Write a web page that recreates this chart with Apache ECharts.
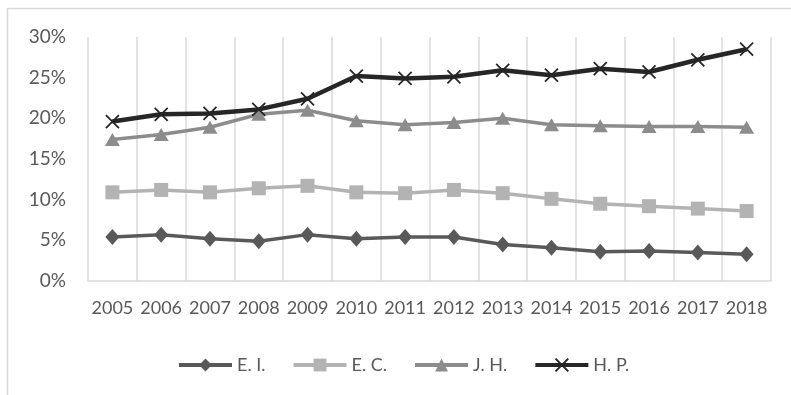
<!DOCTYPE html>
<html>
<head>
<meta charset="utf-8">
<script src="https://cdn.jsdelivr.net/npm/echarts@6/dist/echarts.min.js"></script>
<style>
  html, body { margin: 0; padding: 0; background: #fff; }
  #chart { width: 791px; height: 395px; }
</style>
</head>
<body>
<div id="chart"></div>
<script>
const years = ['2005', '2006', '2007', '2008', '2009', '2010', '2011', '2012', '2013', '2014', '2015', '2016', '2017', '2018']
const ei = [5.4, 5.7, 5.2, 4.9, 5.7, 5.2, 5.4, 5.4, 4.5, 4.1, 3.6, 3.7, 3.5, 3.3]
const ec = [10.9, 11.2, 10.9, 11.4, 11.7, 10.9, 10.8, 11.2, 10.8, 10.1, 9.5, 9.2, 8.9, 8.6]
const jh = [17.4, 18.0, 18.9, 20.5, 21.0, 19.7, 19.2, 19.5, 20.0, 19.2, 19.1, 19.0, 19.0, 18.9]
const hp = [19.6, 20.5, 20.6, 21.1, 22.4, 25.2, 24.9, 25.1, 25.9, 25.3, 26.1, 25.7, 27.2, 28.5]
const yTicks = [0, 5, 10, 15, 20, 25, 30]

const FONT = 'Lato, "Open Sans", sans-serif'
const crossPath = 'path://M0,0L10,10M10,0L0,10'

let chart = echarts.init(document.getElementById('chart'))

function lineSeries(name, data, color, width, symbol, size, extra) {
  return Object.assign({
    name: name,
    type: 'line',
    data: data,
    symbol: symbol,
    symbolSize: size,
    showAllSymbol: true,
    animation: false,
    lineStyle: { color: color, width: width },
    itemStyle: { color: color }
  }, extra || {})
}

let option = {
  animation: false,
  textStyle: { fontFamily: FONT },
  grid: { left: 88, right: 20, top: 37, bottom: 114 },
  graphic: [{
    type: 'rect',
    shape: { x: 7.5, y: 8.5, width: 1000, height: 1000 },
    style: { fill: 'none', stroke: '#d9d9d9', lineWidth: 1.5 },
    silent: true
  }],
  xAxis: {
    type: 'category',
    data: years,
    boundaryGap: true,
    axisLine: { show: true, lineStyle: { color: '#d9d9d9', width: 1.5 } },
    axisTick: { show: false },
    splitLine: { show: true, lineStyle: { color: '#d9d9d9', width: 1.5 } },
    axisLabel: { color: '#595959', fontSize: 18, fontFamily: FONT, margin: 18, interval: 0 }
  },
  yAxis: {
    type: 'value',
    min: yTicks[0],
    max: yTicks[yTicks.length - 1],
    interval: 5,
    axisLine: { show: false },
    axisTick: { show: false },
    splitLine: { show: false },
    axisLabel: {
      color: '#595959',
      fontSize: 19,
      fontFamily: FONT,
      margin: 22,
      formatter: v => v + '%'
    }
  },
  legend: {
    left: 172,
    top: 351,
    itemWidth: 53,
    itemHeight: 16,
    itemGap: 26,
    lineStyle: { width: 4 },
    textStyle: { color: '#595959', fontSize: 18, fontFamily: FONT },
    data: ['E. I.', 'E. C.', 'J. H.', 'H. P.']
  },
  series: [
    lineSeries('E. I.', ei, '#595959', 3.5, 'diamond', [14, 16]),
    lineSeries('E. C.', ec, '#b3b3b3', 3.5, 'rect', 14),
    lineSeries('J. H.', jh, '#8c8c8c', 3.5, 'triangle', [15, 13]),
    lineSeries('H. P.', hp, '#262626', 4.5, crossPath, 13, {
      itemStyle: { color: '#262626', borderColor: '#262626', borderWidth: 1.8 }
    })
  ]
}

chart.setOption(option)
window.onresize = function () {
  chart.resize()
}
</script>
</body>
</html>
